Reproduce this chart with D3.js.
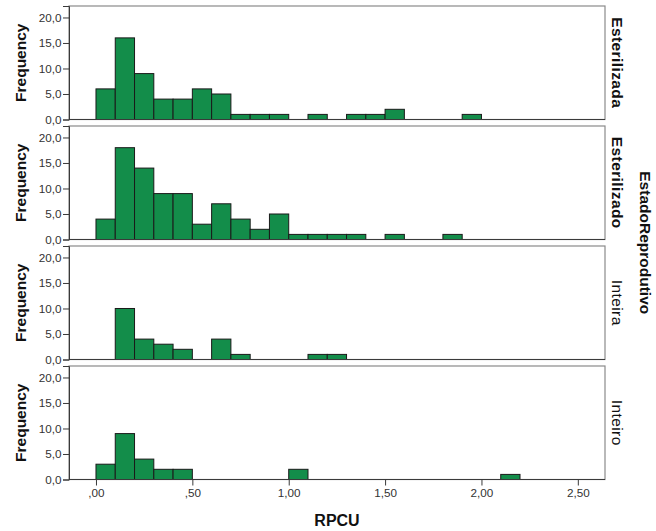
<!DOCTYPE html>
<html>
<head>
<meta charset="utf-8">
<script src="https://cdn.jsdelivr.net/npm/d3@7/dist/d3.min.js"></script>
<style>
  html, body { margin: 0; padding: 0; background: #fff; }
  svg { display: block; font-family: "Liberation Sans", Arial, sans-serif; }
</style>
</head>
<body>
<svg id="chart" width="656" height="531"></svg>
<script>
// ---- data ----
const binStarts = [0.0, 0.1, 0.2, 0.3, 0.4, 0.5, 0.6, 0.7, 0.8, 0.9, 1.0, 1.1, 1.2, 1.3, 1.4, 1.5, 1.6, 1.7, 1.8, 1.9, 2.0, 2.1];
const binWidth = 0.1;
const groups = ["Esterilizada", "Esterilizado", "Inteira", "Inteiro"];
const esterilizada = [6, 16, 9, 4, 4, 6, 5, 1, 1, 1, 0, 1, 0, 1, 1, 2, 0, 0, 0, 1, 0, 0];
const esterilizado = [4, 18, 14, 9, 9, 3, 7, 4, 2, 5, 1, 1, 1, 1, 0, 1, 0, 0, 1, 0, 0, 0];
const inteira      = [0, 10, 4, 3, 2, 0, 4, 1, 0, 0, 0, 1, 1, 0, 0, 0, 0, 0, 0, 0, 0, 0];
const inteiro      = [3, 9, 4, 2, 2, 0, 0, 0, 0, 0, 2, 0, 0, 0, 0, 0, 0, 0, 0, 0, 0, 1];
const seriesValues = [esterilizada, esterilizado, inteira, inteiro];
const yTicks = [0, 5, 10, 15, 20];
const yTickLabels = ["0,0", "5,0", "10,0", "15,0", "20,0"];
const xTicks = [0, 0.5, 1.0, 1.5, 2.0, 2.5];
const xTickLabels = [",00", ",50", "1,00", "1,50", "2,00", "2,50"];
const xTitle = "RPCU";
const yTitle = "Frequency";
const stripTitle = "EstadoReprodutivo";

// ---- layout ----
const svg = d3.select("#chart");
const left = 69, right = 605;
const firstTop = 6, panelH = 113.5, step = 120;

const x = d3.scaleLinear().domain([-0.14, 2.641]).range([left, right]);

const fill = "#138d4a";
const frameColor = "#8a8a8a";
const axisColor = "#3a3a3a";

groups.forEach((g, i) => {
  const top = firstTop + i * step;
  const bottom = top + panelH;
  const y = d3.scaleLinear().domain([0, 22.25]).range([bottom, top]);
  const panel = svg.append("g");

  // frame
  panel.append("rect")
    .attr("x", left).attr("y", top)
    .attr("width", right - left).attr("height", panelH)
    .attr("fill", "#fff").attr("stroke", frameColor).attr("stroke-width", 1.2);

  // bars
  const data = binStarts.map((b, k) => ({ b, v: seriesValues[i][k] })).filter(d => d.v > 0);
  panel.selectAll("rect.bar").data(data).enter().append("rect")
    .attr("class", "bar")
    .attr("x", d => x(d.b))
    .attr("width", d => x(d.b + binWidth) - x(d.b))
    .attr("y", d => y(d.v))
    .attr("height", d => y(0) - y(d.v))
    .attr("fill", fill)
    .attr("stroke", "#1a1a1a")
    .attr("stroke-width", 1);

  // y axis
  const yAxis = d3.axisLeft(y).tickValues(yTicks)
    .tickFormat((d, k) => yTickLabels[k]).tickSize(6).tickPadding(1.5);
  const ya = panel.append("g").attr("transform", `translate(${left},0)`).call(yAxis);
  ya.select(".domain").attr("stroke", axisColor);
  ya.selectAll(".tick line").attr("stroke", axisColor);
  ya.selectAll(".tick text").attr("fill", "#333").style("font-size", "11.7px")
    .style("font-family", "'Liberation Sans', Arial, sans-serif");

  // baseline
  panel.append("line")
    .attr("x1", left).attr("x2", right)
    .attr("y1", y(0)).attr("y2", y(0))
    .attr("stroke", axisColor).attr("stroke-width", 1.2);

  // y title
  panel.append("text")
    .attr("transform", `translate(26,${(top + bottom) / 2}) rotate(-90)`)
    .attr("text-anchor", "middle")
    .style("font-size", "15.5px").style("font-weight", "bold")
    .attr("fill", "#111")
    .text(yTitle);

  // strip label
  panel.append("text")
    .attr("transform", `translate(612,${(top + bottom) / 2}) rotate(90)`)
    .attr("text-anchor", "middle")
    .style("font-size", "15.5px")
    .style("font-weight", g.startsWith("Esteril") ? "bold" : "normal")
    .style("letter-spacing", "0.4px")
    .attr("fill", "#111")
    .text(g);

  // x axis on bottom panel
  if (i === groups.length - 1) {
    const xAxis = d3.axisBottom(x).tickValues(xTicks)
      .tickFormat((d, k) => xTickLabels[k]).tickSize(6).tickPadding(3);
    const xa = svg.append("g").attr("transform", `translate(0,${bottom})`).call(xAxis);
    xa.select(".domain").remove();
    xa.selectAll(".tick line").attr("stroke", axisColor);
    xa.selectAll(".tick text").attr("fill", "#333").style("font-size", "11.7px")
      .style("font-family", "'Liberation Sans', Arial, sans-serif");
  }
});

// x title
svg.append("text")
  .attr("x", (left + right) / 2).attr("y", 526)
  .attr("text-anchor", "middle")
  .style("font-size", "16px").style("font-weight", "bold")
  .attr("fill", "#111")
  .text(xTitle);

// outer strip title
svg.append("text")
  .attr("transform", `translate(640,${(firstTop + firstTop + 3 * step + panelH) / 2}) rotate(90)`)
  .attr("text-anchor", "middle")
  .style("font-size", "15.5px").style("font-weight", "bold")
  .attr("fill", "#111")
  .text(stripTitle);
</script>
</body>
</html>
